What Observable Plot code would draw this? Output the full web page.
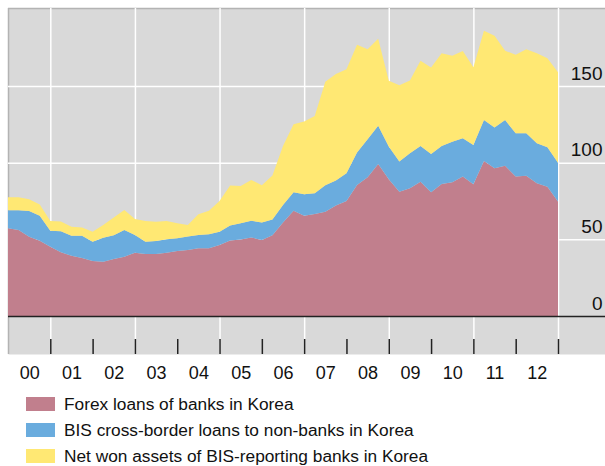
<!DOCTYPE html>
<html>
<head>
<meta charset="utf-8">
<script src="https://cdn.jsdelivr.net/npm/d3@7"></script>
<script src="https://cdn.jsdelivr.net/npm/@observablehq/plot@0.6"></script>
<style>
  html, body { margin: 0; padding: 0; background: #fff; }
  body { width: 605px; height: 466px; overflow: hidden; font-family: "Liberation Sans", Arial, sans-serif; }
  #legend { padding-top: 1px; }
  .row { height: 26.2px; display: flex; align-items: center; font-size: 17.3px; line-height: 17px; color: #111; }
  .sw { width: 29px; height: 14px; margin-left: 26px; margin-right: 9px; flex: none; }
</style>
</head>
<body>
<div id="chart"></div>
<div id="legend"></div>
<script>
// Quarterly observations, start of 2000 to start of 2013 (USD bn)
const startYear = 2000;
const forexLoans = [57.2,56.1,51.7,49.1,45.2,41.6,39.3,37.8,35.9,35.4,37.2,38.7,41.3,40.4,40.4,41.3,42.4,43.1,44.2,44.2,46.3,49.2,49.9,51.2,49.6,52.6,61.0,68.7,65.4,66.5,68.0,72.0,75.0,85.5,90.5,99.2,89.2,81.1,83.3,87.6,80.7,86.1,87.2,90.9,85.9,101.1,96.3,98.0,90.9,91.5,86.6,84.3,74.6];
const bisLoans = [11.7,12.9,16.8,16.3,10.4,13.7,13.0,14.5,12.6,15.7,15.5,17.4,11.5,8.0,8.5,8.7,8.3,8.7,8.7,9.1,8.7,9.9,10.6,11.0,11.3,10.4,11.4,12.0,14.0,13.5,17.2,16.3,18.1,21.1,24.8,24.8,21.3,19.6,22.8,23.3,25.0,24.8,26.5,25.0,25.6,26.7,26.7,29.8,28.3,27.7,26.1,25.7,25.4];
const netWonAssets = [8.5,8.5,7.6,7.4,6.3,6.3,5.9,5.5,6.5,8.3,11.5,13.0,10.4,13.5,12.6,11.9,9.8,7.6,13.5,15.4,20.0,26.0,24.3,26.5,24.4,28.6,38.5,44.4,47.4,50.4,67.6,69.6,67.8,70.3,58.7,56.8,42.9,49.8,47.5,55.6,56.3,60.5,56.1,56.9,50.7,58.3,59.8,45.2,51.1,54.8,58.7,58.1,59.0];

const seriesNames = [
  "Forex loans of banks in Korea",
  "BIS cross-border loans to non-banks in Korea",
  "Net won assets of BIS-reporting banks in Korea"
];
const seriesColors = ["#c17f8d", "#6aacde", "#ffe873"];

const yearLabels = ["00","01","02","03","04","05","06","07","08","09","10","11","12"];
const yTicks = [0, 50, 100, 150];
const gridYears = [2001, 2003, 2005, 2007, 2009, 2011, 2013];
const tickYears = [2001,2002,2003,2004,2005,2006,2007,2008,2009,2010,2011,2012,2013];

const seriesValues = [forexLoans, bisLoans, netWonAssets];
const rows = [];
seriesValues.forEach((vals, s) => {
  vals.forEach((v, i) => rows.push({t: startYear + i / 4, value: v, series: seriesNames[s]}));
});
const labelPos = yearLabels.map((_, i) => startYear + i + 0.5);

const chart = Plot.plot({
  width: 605,
  height: 390,
  marginTop: 8,
  marginBottom: 36,
  marginLeft: 8,
  marginRight: 0,
  style: {fontFamily: "'Liberation Sans', Arial, sans-serif", background: "transparent", color: "#111"},
  x: {domain: [2000, 2014.111], axis: null, label: null},
  y: {domain: [-24.78, 200.87], axis: null, label: null},
  color: {domain: seriesNames, range: seriesColors},
  marks: [
    Plot.frame({fill: "#d9d9d9", stroke: null}),
    Plot.ruleY([200.87], {stroke: "#b3b3b3", strokeWidth: 1.5}),
    Plot.ruleX([2000], {stroke: "#b3b3b3", strokeWidth: 1.5}),
    Plot.ruleY(yTicks.filter(d => d > 0), {stroke: "white", strokeWidth: 1.5}),
    Plot.ruleX(gridYears, {stroke: "white", strokeWidth: 1.5}),
    Plot.areaY(rows, {x: "t", y: "value", z: "series", fill: "series", curve: "linear"}),
    Plot.ruleY([0], {stroke: "#222", strokeWidth: 1.5}),
    Plot.axisX(tickYears, {anchor: "bottom", label: null, tickSize: -15, tickFormat: () => "", stroke: "#222", strokeWidth: 1.5}),
    Plot.axisX(labelPos, {anchor: "bottom", label: null, tickSize: 0, tickPadding: 12, tickFormat: d => yearLabels[Math.round(d - 0.5 - startYear)], fontSize: 18, fill: "#111"}),
    Plot.axisY(yTicks, {anchor: "right", label: null, tickSize: 0, tickPadding: -3, textAnchor: "end", dy: -13, fontSize: 19, fill: "#111"})
  ]
});
document.getElementById("chart").appendChild(chart);

const legend = document.getElementById("legend");
seriesNames.forEach((name, i) => {
  const row = document.createElement("div");
  row.className = "row";
  const sw = document.createElement("span");
  sw.className = "sw";
  sw.style.background = seriesColors[i];
  const tx = document.createElement("span");
  tx.textContent = name;
  row.appendChild(sw);
  row.appendChild(tx);
  legend.appendChild(row);
});
</script>
</body>
</html>
